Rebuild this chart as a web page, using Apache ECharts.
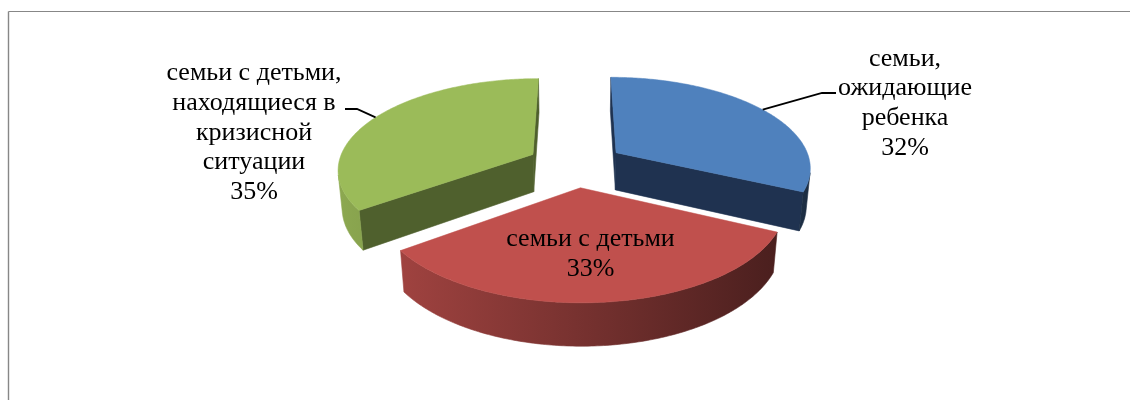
<!DOCTYPE html>
<html><head><meta charset="utf-8">
<script src="https://cdn.jsdelivr.net/npm/echarts/dist/echarts.min.js"></script>
<style>html,body{margin:0;padding:0;background:#fff}#c{width:1130px;height:400px}</style>
</head><body><div id="c"></div>
<script>
// ---- data ----
const categories = ['семьи,\nожидающие\nребенка', 'семьи с детьми', 'семьи с детьми,\nнаходящиеся в\nкризисной\nситуации'];
const values = [32, 33, 35];

// ---- styles ----
const topColors = ['#4F81BD', '#C0504D', '#9BBB59'];
const sideColors = ['#1F3250', '#6E2C2A', '#4F602D'];
const FONT = '26px "Liberation Serif", "Times New Roman", serif';

// ---- 3D view parameters (layout) ----
const P = {cx: 575.7, cy: 164.5, S: 195, sinA: 0.4615, cosA: 0.887, D: 5.91, explode: 0.25, H: 0.222};
const cam = [0, P.D * P.sinA, -P.D * P.cosA];
function proj(X, Y, Z) {
  const depth = 1 + (Z * P.cosA - Y * P.sinA) / P.D;
  return [P.cx + P.S * X / depth, P.cy - P.S * (Y * P.cosA + Z * P.sinA) / depth];
}
// label layout
const labelLayout = [
  {x: 905, y: 103.5, leader: [[822, 93], [836, 93]]},
  {x: 590.5, y: 254.5},
  {x: 254, y: 132.8, leader: [[357, 109], [345, 109]]}
];

const sum = values.reduce((a, b) => a + b, 0);
const geoms = [];
(function () {
  let acc = 0;
  values.forEach(v => {
    const a0 = acc / sum * 2 * Math.PI; acc += v;
    const a1 = acc / sum * 2 * Math.PI; const mid = (a0 + a1) / 2;
    geoms.push({a0, a1, mid, ox: P.explode * Math.sin(mid), oz: P.explode * Math.cos(mid)});
  });
})();
// draw order: back first
const order = geoms.map((g, i) => i).sort((a, b) => geoms[b].oz - geoms[a].oz);

function shade(hex, f) {
  const n = parseInt(hex.slice(1), 16);
  const r = Math.round(((n >> 16) & 255) * f), g = Math.round(((n >> 8) & 255) * f), b = Math.round((n & 255) * f);
  return 'rgb(' + r + ',' + g + ',' + b + ')';
}

function renderItem(params, api) {
  const i = params.dataIndex;
  const g = geoms[i];
  const zb = order.indexOf(i) * 10;
  const children = [];
  // radial walls
  const edges = [[g.a0, [-Math.cos(g.a0), 0, Math.sin(g.a0)]], [g.a1, [Math.cos(g.a1), 0, -Math.sin(g.a1)]]];
  edges.forEach(([a, n]) => {
    const dot = n[0] * (cam[0] - g.ox) + n[1] * (cam[1] - 0) + n[2] * (cam[2] - g.oz);
    if (dot > 0) {
      const ex = g.ox + Math.sin(a), ez = g.oz + Math.cos(a);
      const pts = [proj(g.ox, 0, g.oz), proj(ex, 0, ez), proj(ex, -P.H, ez), proj(g.ox, -P.H, g.oz)];
      children.push({type: 'polygon', shape: {points: pts}, style: {fill: sideColors[i], stroke: sideColors[i], lineWidth: 0.6}, z2: zb + 1});
    }
  });
  // outer curved wall
  const N = 160, vis = [];
  for (let k = 0; k <= N; k++) {
    const t = g.a0 + (g.a1 - g.a0) * k / N;
    const px = g.ox + Math.sin(t), pz = g.oz + Math.cos(t);
    const dot = Math.sin(t) * (cam[0] - px) + Math.cos(t) * (cam[2] - pz);
    if (dot > 0) vis.push(t);
  }
  if (vis.length > 1) {
    const top = vis.map(t => proj(g.ox + Math.sin(t), 0, g.oz + Math.cos(t)));
    const bot = vis.map(t => proj(g.ox + Math.sin(t), -P.H, g.oz + Math.cos(t))).reverse();
    const grad = new echarts.graphic.LinearGradient(340, 0, 810, 0, [
      {offset: 0, color: shade(topColors[i], 0.9)},
      {offset: 1, color: shade(topColors[i], 0.35)}
    ], true);
    children.push({type: 'polygon', shape: {points: top.concat(bot)}, style: {fill: grad, stroke: grad, lineWidth: 0.6}, z2: zb + 2});
  }
  // top face
  const M = 160, face = [proj(g.ox, 0, g.oz)];
  for (let k = 0; k <= M; k++) {
    const t = g.a0 + (g.a1 - g.a0) * k / M;
    face.push(proj(g.ox + Math.sin(t), 0, g.oz + Math.cos(t)));
  }
  children.push({type: 'polygon', shape: {points: face}, style: {fill: topColors[i], stroke: topColors[i], lineWidth: 0.5}, z2: zb + 3});
  // label
  const L = labelLayout[i];
  const pct = Math.round(api.value(1) / sum * 100) + '%';
  children.push({type: 'text', x: L.x, y: L.y, z2: 100,
    style: {text: categories[i] + '\n' + pct, font: FONT, fill: '#000', align: 'center', verticalAlign: 'middle', lineHeight: 29.8}});
  if (L.leader) {
    const anchor = proj(g.ox + Math.sin(g.mid), 0, g.oz + Math.cos(g.mid));
    children.push({type: 'polyline', shape: {points: [anchor].concat(L.leader)}, style: {stroke: '#000', lineWidth: 1.8, fill: null}, z2: 100});
  }
  return {type: 'group', children};
}

const chart = echarts.init(document.getElementById('c'), null, {renderer: 'canvas'});
chart.setOption({
  animation: false,
  backgroundColor: '#fff',
  graphic: [
    {type: 'line', shape: {x1: 8.5, y1: 11.5, x2: 1130, y2: 11.5}, style: {stroke: '#878787', lineWidth: 1.2}, silent: true},
    {type: 'line', shape: {x1: 8.5, y1: 11.5, x2: 8.5, y2: 400}, style: {stroke: '#878787', lineWidth: 1.4}, silent: true}
  ],
  series: [{
    type: 'custom',
    coordinateSystem: 'none',
    renderItem: renderItem,
    data: values.map((v, i) => ({name: categories[i], value: [i, v]}))
  }]
});
</script></body></html>
